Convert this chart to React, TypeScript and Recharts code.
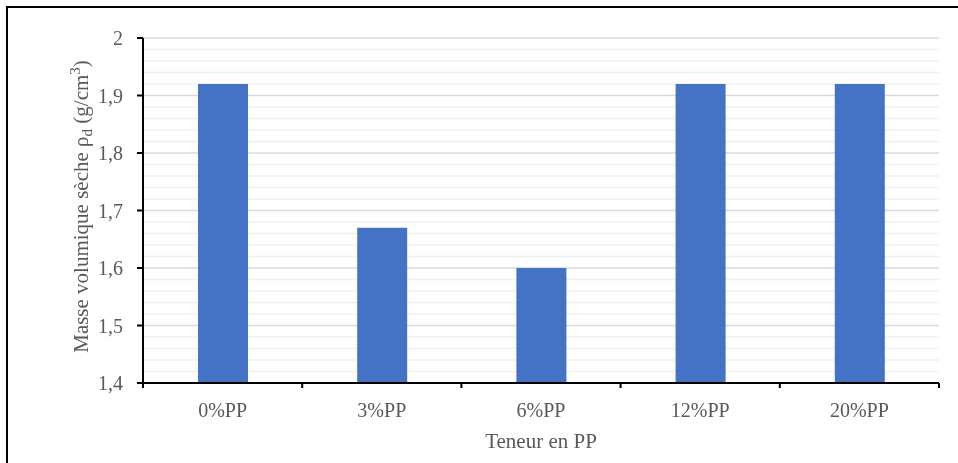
import { BarChart, Bar, XAxis, YAxis, CartesianGrid, Label } from "recharts"

const categories = ["0%PP", "3%PP", "6%PP", "12%PP", "20%PP"]
const densities = [1.92, 1.67, 1.6, 1.92, 1.92]
const majorTicks = [1.4, 1.5, 1.6, 1.7, 1.8, 1.9, 2]
const minorTicks = [
  1.42, 1.44, 1.46, 1.48, 1.52, 1.54, 1.56, 1.58, 1.62, 1.64, 1.66, 1.68,
  1.72, 1.74, 1.76, 1.78, 1.82, 1.84, 1.86, 1.88, 1.92, 1.94, 1.96, 1.98,
]

const data = categories.map((c, i) => ({ name: c, rho: densities[i] }))

const FONT = '"Liberation Serif", "Times New Roman", serif'
const TEXT = "#595959"
const X_TICK_LEN = 5
const X_TICK_GAP = 15

function YTitle(props: any) {
  const vb = props.viewBox || { x: 0, y: 0, width: 0, height: 0 }
  const cx = vb.x + 5
  const cy = vb.y + vb.height / 2 - 4
  return (
    <text
      x={cx}
      y={cy}
      transform={`rotate(-90, ${cx}, ${cy})`}
      textAnchor="middle"
      fill={TEXT}
      fontFamily={FONT}
      fontSize={21}
    >
      Masse volumique sèche ρ
      <tspan dy={4} fontSize={15}>d</tspan>
      <tspan dy={-4}> (g/cm</tspan>
      <tspan dy={-8} fontSize={15}>3</tspan>
      <tspan dy={8}>)</tspan>
    </text>
  )
}

// category label plus a tick mark on the band edges, like Excel
function XTick(props: any) {
  const { x, y, payload, index } = props
  const half = payload?.offset ?? 0
  const axisY = y - X_TICK_LEN - X_TICK_GAP
  const last = index === categories.length - 1
  return (
    <g>
      <line x1={x - half} x2={x - half} y1={axisY} y2={axisY + X_TICK_LEN} stroke="#000" strokeWidth={2} />
      {last && (
        <line x1={x + half} x2={x + half} y1={axisY} y2={axisY + X_TICK_LEN} stroke="#000" strokeWidth={2} />
      )}
      <text x={x} y={y} dy="0.71em" textAnchor="middle" fill={TEXT} fontFamily={FONT} fontSize={20}>
        {payload.value}
      </text>
    </g>
  )
}

export default function App() {
  return (
    <>
      <div
        style={{
          position: "fixed",
          left: 6,
          top: 6,
          width: 1000,
          height: 500,
          border: "2px solid #000",
          boxSizing: "border-box",
        }}
      />
      <div style={{ position: "fixed", left: 0, top: 0 }}>
        <BarChart
          width={958}
          height={463}
          data={data}
          margin={{ top: 38, right: 19, bottom: 0, left: 83 }}
        >
          <CartesianGrid
            vertical={false}
            horizontalValues={minorTicks}
            stroke="#f0f0f0"
            strokeWidth={1.5}
          />
          <CartesianGrid
            vertical={false}
            horizontalValues={majorTicks}
            stroke="#d9d9d9"
            strokeWidth={1.5}
          />
          <XAxis
            dataKey="name"
            height={80}
            tickLine={false}
            tickSize={X_TICK_LEN}
            tickMargin={X_TICK_GAP}
            interval={0}
            axisLine={{ stroke: "#000", strokeWidth: 2 }}
            tick={<XTick />}
          >
            <Label
              value="Teneur en PP"
              position="insideBottom"
              offset={15}
              fill={TEXT}
              fontFamily={FONT}
              fontSize={21}
            />
          </XAxis>
          <YAxis
            width={60}
            domain={[1.4, 2]}
            ticks={majorTicks}
            interval={0}
            allowDataOverflow
            tickSize={6}
            tickMargin={14}
            axisLine={{ stroke: "#000", strokeWidth: 2 }}
            tickLine={{ stroke: "#000", strokeWidth: 2 }}
            tick={{ fill: TEXT, fontFamily: FONT, fontSize: 20 }}
            tickFormatter={(v: number) => String(v).replace(".", ",")}
            label={{ content: YTitle }}
          />
          <Bar dataKey="rho" fill="#4472C4" barSize={50} isAnimationActive={false} />
        </BarChart>
      </div>
    </>
  )
}
